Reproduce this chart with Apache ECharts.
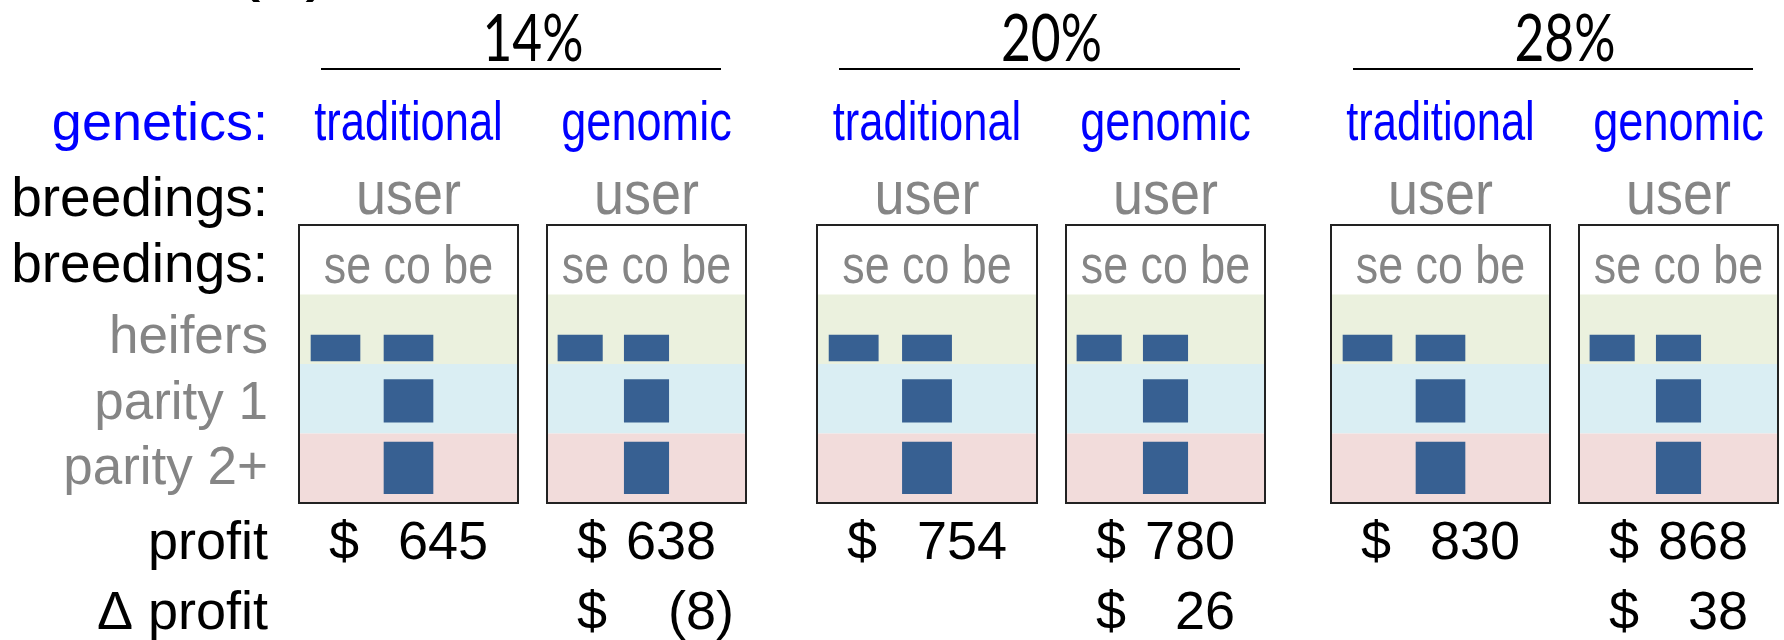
<!DOCTYPE html>
<html>
<head>
<meta charset="utf-8">
<script src="https://cdn.jsdelivr.net/npm/echarts@6/dist/echarts.min.js"></script>
<style>
  html, body { margin: 0; padding: 0; background: #fff; }
  #main { width: 1784px; height: 640px; }
</style>
</head>
<body>
<div id="main"></div>
<script>
// data
var rates = ['14%', '20%', '28%'];
var genetics = ['traditional', 'genomic', 'traditional', 'genomic', 'traditional', 'genomic'];
var breedingPlans = ['user', 'user', 'user', 'user', 'user', 'user'];
var breedTypes = ['se', 'co', 'be'];
var groups = ['heifers', 'parity 1', 'parity 2+'];
var profit = [645, 638, 754, 780, 830, 868];
var deltaProfit = [null, -8, null, 26, null, 38];
// which breeding type is used for each animal group
var userPlan = [['se', 'heifers'], ['co', 'heifers'], ['co', 'parity 1'], ['co', 'parity 2+']];
var panelPlans = [userPlan, userPlan, userPlan, userPlan, userPlan, userPlan];

// layout
var panelLeft = [299, 547, 817, 1066, 1331, 1579];
var panelWidth = [219, 199, 220, 199, 219, 199];
var boxTop = 225, boxHeight = 278;
var labelRight = 268;
var FONT = 'Liberation Sans';
var GRAY = '#858585';
var BLUE = '#0000ff';
var bandColors = ['#ffffff', '#ebf1de', '#daeef3', '#f2dcdb'];
// block top/bottom inside its row (fraction of row height)
var blockSpan = [[0.58, 0.96], [0.22, 0.84], [0.12, 0.87]];

var chart = echarts.init(document.getElementById('main'), null, {renderer: 'canvas'});

function txt(str, x, baseline, size, color, align, sx, family) {
  return {
    type: 'text',
    x: x,
    y: baseline - 0.33 * size,
    scaleX: sx || 1,
    z: 10,
    style: {
      text: str,
      x: 0,
      y: 0,
      fontSize: size,
      fontFamily: family || FONT,
      fill: color,
      align: align,
      verticalAlign: 'middle'
    }
  };
}

function renderBlock(params, api) {
  var g = api.value(1);
  var c = api.coord([api.value(0), g]);
  var s = api.size([1, 1]);
  var span = blockSpan[g - 1] || [0, 1];
  var w = s[0] * 0.68;
  var top = c[1] - s[1] / 2;
  return {
    type: 'rect',
    shape: {x: c[0] - w / 2, y: top + span[0] * s[1], width: w, height: (span[1] - span[0]) * s[1]},
    style: {fill: '#376092'}
  };
}

var grids = [], xAxes = [], yAxes = [], series = [];
var graphics = [];

// cut off panel tag at the very top
graphics.push(txt('(a)', 283, -11, 80, '#000', 'center'));

var yData = ['breedings:'].concat(groups);

panelLeft.forEach(function (left, i) {
  var w = panelWidth[i];
  var cx = left + w / 2;
  grids.push({left: left, top: boxTop, width: w, height: boxHeight, show: true,
    borderColor: '#222', borderWidth: 2, backgroundColor: 'transparent', z: 5});
  xAxes.push({type: 'category', gridIndex: i, data: breedTypes, show: false});
  yAxes.push({
    type: 'category', gridIndex: i, inverse: true, data: yData,
    axisLine: {show: false}, axisTick: {show: false},
    axisLabel: {
      show: i === 0, margin: left - labelRight, fontFamily: FONT,
      fontSize: 53, color: GRAY, align: 'right',
      formatter: function (v, idx) { return '{r' + idx + '|' + v + '}'; },
      rich: {
        r0: {color: '#000', fontSize: 55, padding: [14, 0, 0, 0]},
        r1: {padding: [18, 0, 0, 0]},
        r2: {padding: [12, 0, 0, 0]},
        r3: {padding: [2, 0, 0, 0]}
      }
    },
    splitLine: {show: false},
    splitArea: {show: true, areaStyle: {color: bandColors, opacity: 1}}
  });
  series.push({
    type: 'custom', xAxisIndex: i, yAxisIndex: i,
    renderItem: renderBlock,
    data: panelPlans[i],
    z: 3
  });

  // column headers
  graphics.push(txt(genetics[i], cx, 143, 55, BLUE, 'center', genetics[i] === 'traditional' ? 0.79 : 0.82));
  graphics.push(txt(breedingPlans[i], cx, 217, 62, GRAY, 'center', 0.87));
  graphics.push(txt(breedTypes.join(' '), cx, 286, 54, GRAY, 'center', 0.83));

  // profit rows
  graphics.push(txt('$', left + 30, 562, 54, '#000', 'left'));
  graphics.push(txt(String(profit[i]), left + w - 30, 562, 54, '#000', 'right'));
  if (deltaProfit[i] !== null) {
    var d = deltaProfit[i];
    graphics.push(txt('$', left + 30, 632, 54, '#000', 'left'));
    graphics.push(d < 0
      ? txt('(' + Math.abs(d) + ')', left + w - 12, 632, 54, '#000', 'right')
      : txt(String(d), left + w - 30, 632, 54, '#000', 'right'));
  }
});

// rate headers with underline
rates.forEach(function (r, p) {
  var x1 = panelLeft[2 * p] + 22;
  var x2 = panelLeft[2 * p + 1] + panelWidth[2 * p + 1] - 25;
  graphics.push({type: 'line', shape: {x1: x1, y1: 69, x2: x2, y2: 69}, style: {stroke: '#000', lineWidth: 2}, z: 10});
  graphics.push(txt(r, (x1 + x2) / 2 + 12, 61, 66, '#000', 'center', 0.78, 'Lato'));
});

// row titles
graphics.push(txt('genetics:', labelRight, 143, 54, BLUE, 'right'));
graphics.push(txt('breedings:', labelRight, 219, 55, '#000', 'right'));
graphics.push(txt('profit', labelRight, 562, 54, '#000', 'right'));
graphics.push(txt('\u0394 profit', labelRight, 632, 54, '#000', 'right'));

chart.setOption({
  animation: false,
  backgroundColor: '#ffffff',
  grid: grids,
  xAxis: xAxes,
  yAxis: yAxes,
  series: series,
  graphic: graphics
});
</script>
</body>
</html>
